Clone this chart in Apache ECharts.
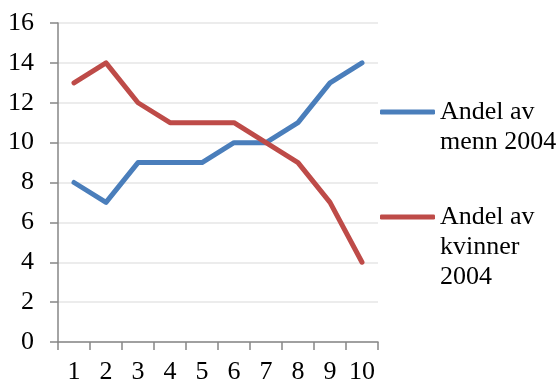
<!DOCTYPE html>
<html>
<head>
<meta charset="utf-8">
<script src="https://cdn.jsdelivr.net/npm/echarts@6/dist/echarts.min.js"></script>
<style>
  html, body { margin: 0; padding: 0; background: #fff; }
  #chart { width: 560px; height: 385px; }
</style>
</head>
<body>
<div id="chart"></div>
<script>
// Share of men and women per group, 2004
const categories = ['1', '2', '3', '4', '5', '6', '7', '8', '9', '10'];
const menn2004 = [8, 7, 9, 9, 9, 10, 10, 11, 13, 14];
const kvinner2004 = [13, 14, 12, 11, 11, 11, 10, 9, 7, 4];
const seriesNames = ['Andel av\nmenn 2004', 'Andel av\nkvinner\n2004'];

const FONT = '"Liberation Serif", "Times New Roman", serif';
const BLUE = '#4A7EBB';
const RED = '#BE4B48';

// Each legend entry keeps its swatch level with the first text line:
// blank lines are prepended so the first line sits at the block's centre.
function legendFor(name, color, top) {
  const n = name.split('\n').length;
  return {
    data: [name],
    orient: 'vertical',
    left: 380,
    top: top,
    padding: 0,
    icon: 'roundRect',
    itemWidth: 55,
    itemHeight: 5,
    itemGap: 0,
    selectedMode: false,
    itemStyle: { color: color },
    formatter: (label) => '\n'.repeat(n - 1) + label,
    textStyle: {
      fontFamily: FONT,
      fontSize: 26,
      color: '#000',
      lineHeight: 30
    }
  };
}

const chart = echarts.init(document.getElementById('chart'), null, { renderer: 'canvas' });
chart.setOption({
  animation: false,
  backgroundColor: '#fff',
  grid: { left: 58, right: 182, top: 23, bottom: 42 },
  legend: [
    legendFor(seriesNames[0], BLUE, 67),
    legendFor(seriesNames[1], RED, 142)
  ],
  xAxis: {
    type: 'category',
    data: categories,
    boundaryGap: true,
    axisLine: { lineStyle: { color: '#868686', width: 1.5 } },
    axisTick: { show: true, interval: 0, length: 8, lineStyle: { color: '#868686', width: 1.5 } },
    axisLabel: { interval: 0, margin: 17, fontFamily: FONT, fontSize: 26, color: '#000' },
    splitLine: { show: false }
  },
  yAxis: {
    type: 'value',
    min: 0,
    max: 16,
    interval: 2,
    axisLine: { show: true, lineStyle: { color: '#868686', width: 1.5 } },
    axisTick: { show: true, length: 8, lineStyle: { color: '#868686', width: 1.5 } },
    axisLabel: { margin: 24, fontFamily: FONT, fontSize: 26, color: '#000' },
    splitLine: { show: true, lineStyle: { color: '#E6E6E6', width: 1.5 } }
  },
  series: [
    {
      name: seriesNames[0],
      type: 'line',
      data: menn2004,
      symbol: 'none',
      lineStyle: { color: BLUE, width: 5, cap: 'round', join: 'round' },
      itemStyle: { color: BLUE }
    },
    {
      name: seriesNames[1],
      type: 'line',
      data: kvinner2004,
      symbol: 'none',
      lineStyle: { color: RED, width: 5, cap: 'round', join: 'round' },
      itemStyle: { color: RED }
    }
  ]
});
</script>
</body>
</html>
